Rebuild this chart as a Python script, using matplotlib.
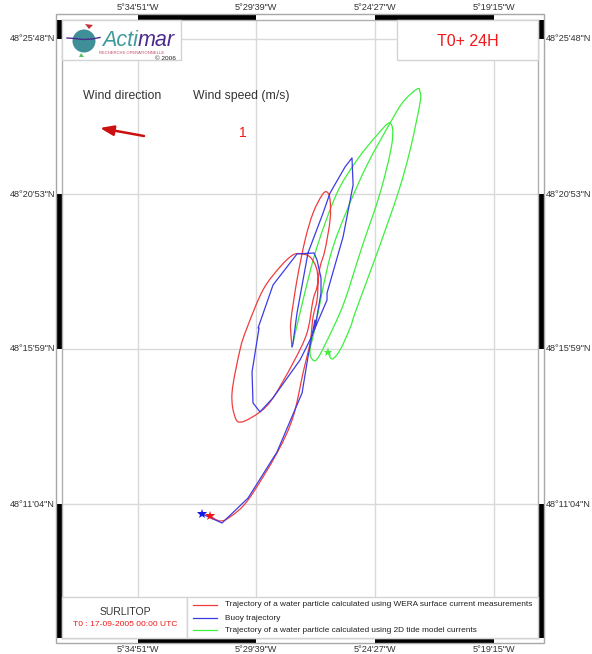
import matplotlib
matplotlib.use('Agg')
from matplotlib import pyplot as plt
from matplotlib.patches import Circle, PathPatch, Polygon, Rectangle
from matplotlib.path import Path

plt.rcParams['font.family'] = ['Liberation Sans', 'DejaVu Sans']

W, H = 592, 654

lon_ticks = [-5.58083, -5.49417, -5.40750, -5.32083]
lat_ticks = [48.18444, 48.26639, 48.34806, 48.43]
lon_labels = ["5°34'51\"W", "5°29'39\"W", "5°24'27\"W", "5°19'15\"W"]
lat_labels = ["48°11'04\"N", "48°15'59\"N", "48°20'53\"N", "48°25'48\"N"]

red_lon = [-5.5279, -5.5207, -5.5134, -5.5002, -5.4791, -5.4674, -5.4601, -5.4550, -5.4528, -5.4499,
           -5.4492, -5.4506, -5.4550, -5.4608, -5.4674, -5.4769, -5.4893, -5.5010, -5.5061, -5.5119,
           -5.5097, -5.5046, -5.4915, -5.4820, -5.4674, -5.4572, -5.4528, -5.4499, -5.4477, -5.4441,
           -5.4404, -5.4404, -5.4426, -5.4462, -5.4528, -5.4586, -5.4645, -5.4689, -5.4689, -5.4681]
red_lat = [48.1781, 48.1755, 48.1776, 48.1866, 48.2114, 48.2304, 48.2537, 48.2695, 48.2832, 48.2922,
           48.3028, 48.3096, 48.3149, 48.3165, 48.3160, 48.3096, 48.2975, 48.2774, 48.2658, 48.2431,
           48.2304, 48.2278, 48.2331, 48.2405, 48.2589, 48.2748, 48.2922, 48.2991, 48.3096, 48.3186,
           48.3344, 48.3450, 48.3492, 48.3476, 48.3381, 48.3239, 48.3028, 48.2816, 48.2737, 48.2674]

blue_lon = [-5.5338, -5.5192, -5.5002, -5.4791, -5.4608, -5.4565, -5.4514, -5.4514, -5.4470, -5.4470,
            -5.4499, -5.4521, -5.4645, -5.4820, -5.4929, -5.4922, -5.4973, -5.4966, -5.4915, -5.4820,
            -5.4623, -5.4550, -5.4426, -5.4426, -5.4309, -5.4236, -5.4244, -5.4295, -5.4404, -5.4455,
            -5.4565, -5.4645, -5.4674, -5.4681]
blue_lat = [48.1792, 48.1744, 48.1876, 48.2119, 48.2431, 48.2621, 48.2816, 48.2774, 48.2959, 48.3038,
            48.3133, 48.3170, 48.3165, 48.3001, 48.2774, 48.2774, 48.2542, 48.2378, 48.2331, 48.2405,
            48.2605, 48.2711, 48.2922, 48.2959, 48.3255, 48.3529, 48.3672, 48.3624, 48.3487, 48.3381,
            48.3170, 48.2853, 48.2695, 48.2674]

green_lon = [-5.4419, -5.4389, -5.4331, -5.4258, -5.4214, -5.4061, -5.3908, -5.3820, -5.3748, -5.3748,
             -5.3769, -5.3872, -5.3966, -5.4134, -5.4280, -5.4404, -5.4514, -5.4550, -5.4535, -5.4492,
             -5.4382, -5.4295, -5.4171, -5.4039, -5.3952, -5.3966, -5.4061, -5.4207, -5.4353, -5.4499,
             -5.4601, -5.4681]
green_lat = [48.2647, 48.2610, 48.2658, 48.2774, 48.2869, 48.3170, 48.3487, 48.3714, 48.3962, 48.4020,
             48.4036, 48.3967, 48.3856, 48.3635, 48.3397, 48.3149, 48.2774, 48.2658, 48.2610, 48.2616,
             48.2774, 48.2922, 48.3202, 48.3487, 48.3751, 48.3856, 48.3793, 48.3661, 48.3487, 48.3202,
             48.2922, 48.2674]

legend_labels = ['Trajectory of a water particle calculated using WERA surface current measurements',
                 'Buoy trajectory',
                 'Trajectory of a water particle calculated using 2D tide model currents']
track_colors = ['#f03c3c', '#3c3ce6', '#3cf03c']


def smooth_path(xs, ys):
    # bezier curve through the read points (catmull-rom), the picture's tracks are round
    verts = [(xs[0], ys[0])]
    codes = [Path.MOVETO]
    n = len(xs)
    for i in range(n - 1):
        a = max(i - 1, 0)
        d = min(i + 2, n - 1)
        verts.append((xs[i] + (xs[i + 1] - xs[a]) / 6, ys[i] + (ys[i + 1] - ys[a]) / 6))
        verts.append((xs[i + 1] - (xs[d] - xs[i]) / 6, ys[i + 1] - (ys[d] - ys[i]) / 6))
        verts.append((xs[i + 1], ys[i + 1]))
        codes += [Path.CURVE4, Path.CURVE4, Path.CURVE4]
    return Path(verts, codes)


fig = plt.figure(figsize=(W / 100, H / 100), dpi=100)

# map area, inner frame is at x 62-538, y 20-638 in the picture
ax = fig.add_axes([62 / W, 1 - 638 / H, 476 / W, 618 / H])
ax.set_xlim(-5.63591, -5.28873)
ax.set_ylim(48.11369, 48.44003)
ax.set_xticks([])
ax.set_yticks([])
for s in ax.spines.values():
    s.set_color('#b0b0b0')
    s.set_linewidth(1)

for lon in lon_ticks:
    ax.axvline(lon, color='#d9d9d9', lw=1, zorder=1)
for lat in lat_ticks:
    ax.axhline(lat, color='#d9d9d9', lw=1, zorder=1)

# black and white border bands
bx = 6 / 476
by = 6 / 618
x0, x1 = ax.get_xlim()
y0, y1 = ax.get_ylim()
for a, b in [(lon_ticks[0], lon_ticks[1]), (lon_ticks[2], lon_ticks[3])]:
    ax.axvspan(a, b, ymin=1, ymax=1 + by, color='black', lw=0, clip_on=False)
    ax.axvspan(a, b, ymin=-by, ymax=0, color='black', lw=0, clip_on=False)
for a, b in [(y0, lat_ticks[0]), (lat_ticks[1], lat_ticks[2]), (lat_ticks[3], y1)]:
    ax.axhspan(a, b, xmin=-bx, xmax=0, color='black', lw=0, clip_on=False)
    ax.axhspan(a, b, xmin=1, xmax=1 + bx, color='black', lw=0, clip_on=False)

ax.add_patch(PathPatch(smooth_path(green_lon, green_lat), fc='none', ec=track_colors[2], lw=0.9, zorder=3))
ax.add_patch(PathPatch(smooth_path(red_lon, red_lat), fc='none', ec=track_colors[0], lw=0.9, zorder=4))
ax.plot(blue_lon, blue_lat, color=track_colors[1], lw=0.9, zorder=5)
ax.plot(green_lon[0], green_lat[0], '*', color=track_colors[2], ms=6.5, mew=0, zorder=6)
ax.plot(red_lon[0], red_lat[0], '*', color='#f01818', ms=7, mew=0, zorder=6)
ax.plot(blue_lon[0], blue_lat[0], '*', color='#1818e6', ms=7, mew=0, zorder=6)

# overlay in picture pixels for boxes, logo and labels
ov = fig.add_axes([0, 0, 1, 1], facecolor='none')
ov.set_xlim(0, W)
ov.set_ylim(H, 0)
ov.axis('off')

ov.add_patch(Rectangle((56, 14), 488, 629, fill=False, ec='#a8a8a8', lw=1))
for bx0, by0, bw, bh in [(62, 20, 119, 40), (397, 20, 141, 40), (62, 597, 125, 41), (187, 597, 351, 41)]:
    ov.add_patch(Rectangle((bx0, by0), bw, bh, fc='white', ec='#d4d4d4', lw=1))

label_color = '#333333'
for lon, txt in zip(lon_ticks, lon_labels):
    px = ax.transData.transform((lon, y0))[0]
    ov.text(px, 8, txt, ha='center', va='center', fontsize=6.6, color=label_color)
    ov.text(px, 649, txt, ha='center', va='center', fontsize=6.6, color=label_color)
for lat, txt in zip(lat_ticks, lat_labels):
    py = H - ax.transData.transform((x0, lat))[1]
    ov.text(55, py, txt, ha='right', va='center', fontsize=6.6, color=label_color)
    ov.text(546, py, txt, ha='left', va='center', fontsize=6.6, color=label_color)

# logo
ov.add_patch(Circle((84, 41), 11.5, fc='#3f8f98', ec='none'))
ov.plot([67, 75, 83, 92, 100], [38, 38.5, 39.5, 39, 37.5], color='#4a2a8c', lw=1)
ov.add_patch(Polygon([[85, 24], [93, 25], [89, 29]], fc='#c8303a', ec='none'))
ov.add_patch(Polygon([[79, 57], [84, 57], [81, 53]], fc='#5cc060', ec='none'))
ov.text(102, 46, 'Acti', fontsize=15.5, style='italic', color='#3f9a9a', ha='left', va='baseline')
ov.text(138, 46, 'mar', fontsize=15.5, style='italic', color='#4a2a8c', ha='left', va='baseline')
ov.text(99, 52.5, 'RECHERCHE OPERATIONNELLE', fontsize=3, color='#c04060', ha='left', va='center')
ov.text(176, 58, '© 2006', fontsize=4.6, color='#222222', ha='right', va='center')

ov.text(468, 41, 'T0+ 24H', fontsize=11.5, color='#f01818', ha='center', va='center')

ov.text(83, 96, 'Wind direction', fontsize=8.8, color='#333333', ha='left', va='center')
ov.text(193, 96, 'Wind speed (m/s)', fontsize=8.8, color='#333333', ha='left', va='center')
ov.text(243, 133, '1', fontsize=10, color='#f01818', ha='center', va='center')
ov.annotate('', xy=(100, 128), xytext=(144, 136),
            arrowprops=dict(arrowstyle='-|>,head_width=0.3,head_length=0.8', color='#cc1010', lw=1.8, shrinkA=0, shrinkB=0))

ov.text(125, 612, 'SURLITOP', fontsize=7.5, color='#333333', ha='center', va='center')
ov.text(125, 625, 'T0 : 17-09-2005 00:00 UTC', fontsize=6.1, color='#f01818', ha='center', va='center')

for py, col, txt in zip([605, 618, 630], track_colors, legend_labels):
    ov.plot([193, 217], [py, py], color=col, lw=0.9)
    ov.text(225, py, txt, fontsize=5.95, color='#222222', ha='left', va='center')

fig.savefig('out.png', dpi=100)
